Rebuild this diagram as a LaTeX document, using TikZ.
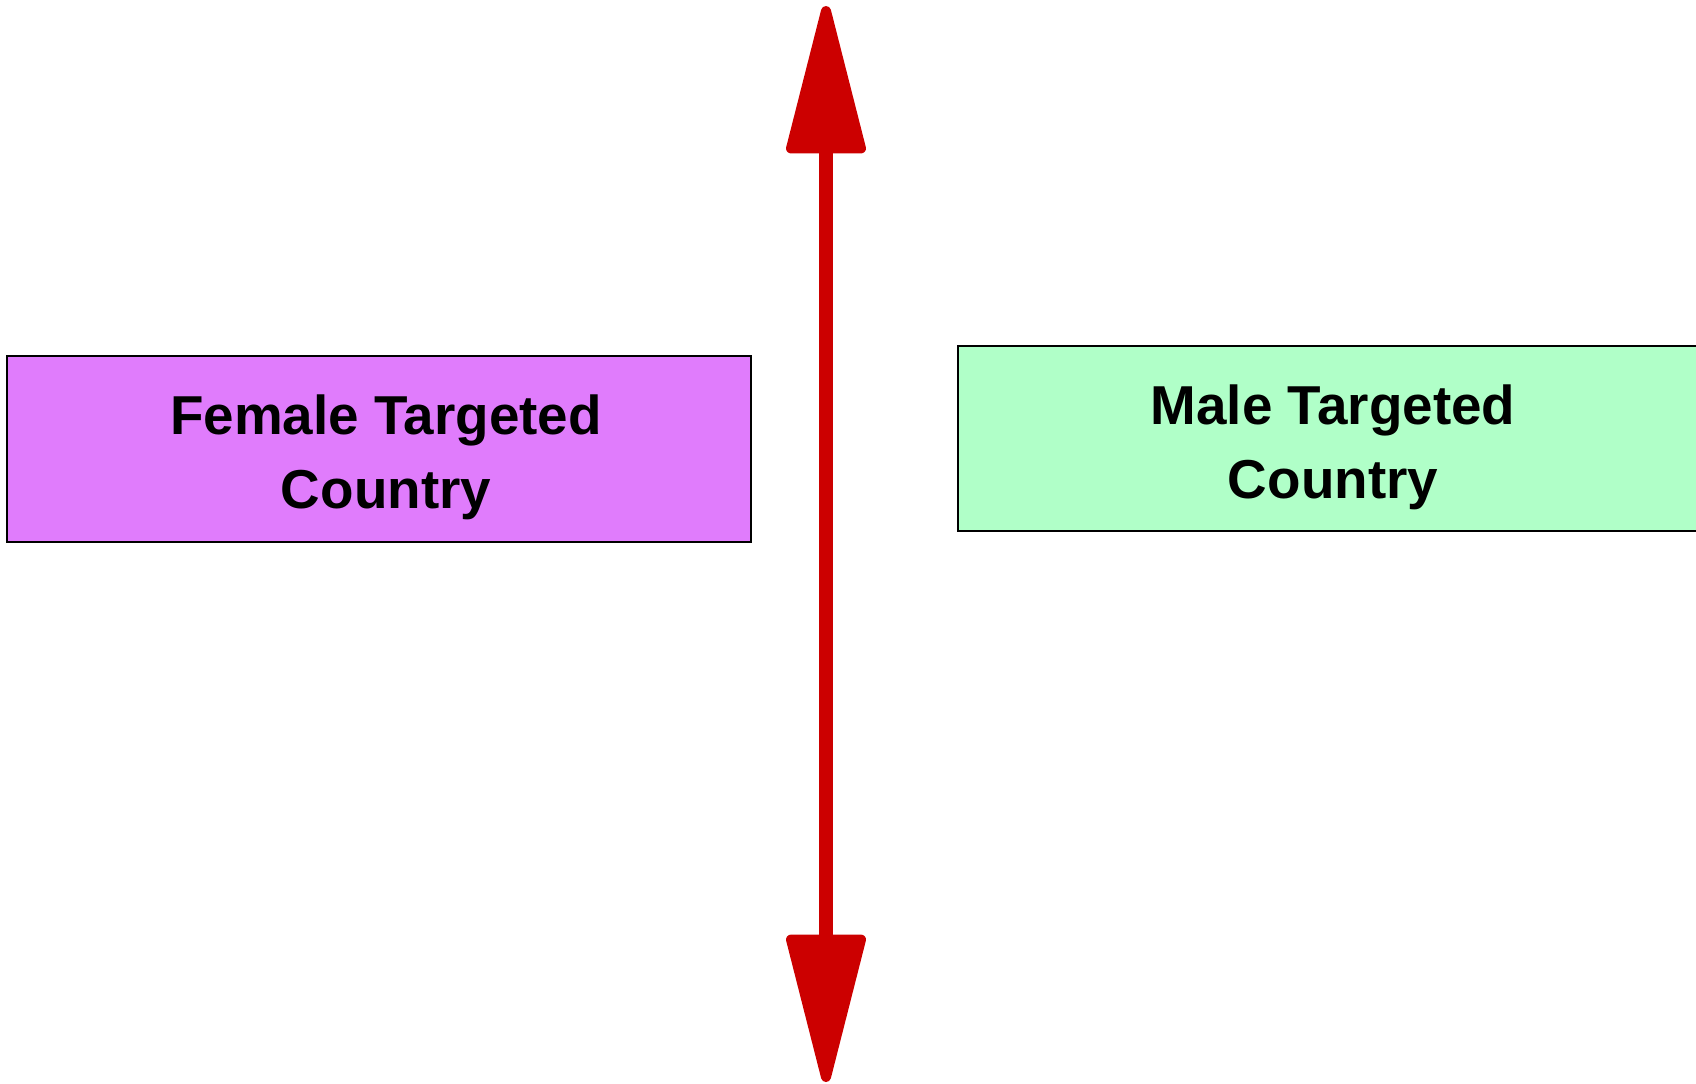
\documentclass[tikz,border=0pt]{standalone}
\usepackage{fontspec}
\setmainfont{Liberation Sans}
\usetikzlibrary{arrows.meta}

\definecolor{femalepink}{RGB}{224,124,252}
\definecolor{malegreen}{RGB}{176,255,200}
\definecolor{arrowred}{RGB}{204,0,0}

\begin{document}
\begin{tikzpicture}[x=0.02cm, y=-0.02cm,
	box/.style={draw=black, line width=0.85pt, inner sep=0pt, align=center,
		font=\fontsize{31.2}{42}\selectfont\bfseries},
	dbl/.style={arrowred, line width=0.28cm,
		{Triangle[length=3.27cm, width=1.6cm, line width=0.2cm, round]}-{Triangle[length=3.27cm, width=1.6cm, line width=0.2cm, round]}}]

	\useasboundingbox (0,0) rectangle (1696,1083);

	\node[box, fill=femalepink, minimum width=14.88cm, minimum height=3.72cm] (female) at (379,449) {};
	\node[box, fill=malegreen, minimum width=15cm, minimum height=3.7cm] (male) at (1333,438.5) {};

	% labels, a little below the middle of each box
	\node[box, draw=none] (femaletext) at (386,457) {Female Targeted\\Country};
	\node[box, draw=none] (maletext) at (1333,447) {Male Targeted\\Country};

	\coordinate (top) at (826,6);
	\coordinate (bottom) at (826,1082);
	\draw[dbl] (top) -- (bottom);

\end{tikzpicture}
\end{document}
